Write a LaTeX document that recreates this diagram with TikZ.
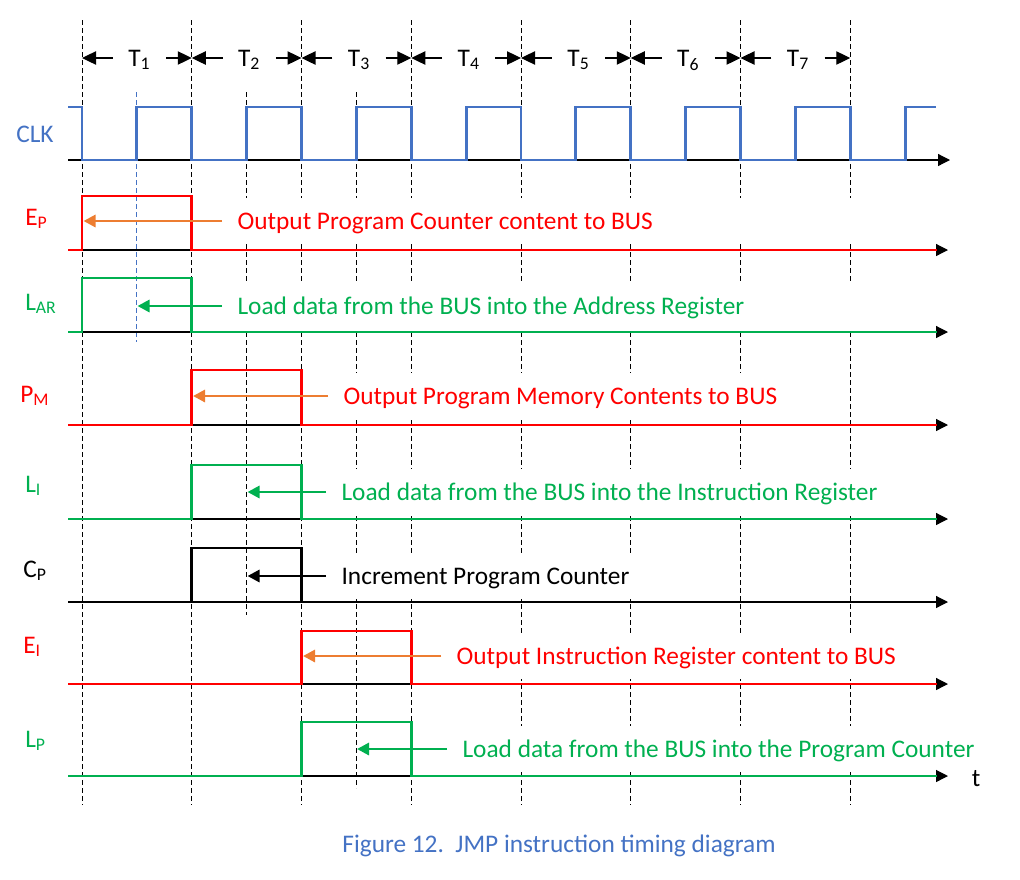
\documentclass[tikz,border=0pt]{standalone}
\usepackage{fontspec}
\setmainfont{Carlito}
\usetikzlibrary{arrows.meta}
\definecolor{cblue}{HTML}{4472C4}
\definecolor{cred}{HTML}{FF0000}
\definecolor{cgreen}{HTML}{00B050}
\definecolor{corange}{HTML}{ED7D31}
\begin{document}
\begin{tikzpicture}[x=0.75pt,y=-0.75pt,
  font=\fontsize{19pt}{22pt}\selectfont,
  vdash/.style={line width=0.75pt, dash pattern=on 3.75pt off 2.25pt},
  axisln/.style={line width=0.9pt, -{Triangle[length=9pt,width=9pt]}},
  sig/.style={line width=2.2pt},
  ptr/.style={line width=2.2pt, -{Triangle[length=9pt,width=9pt]}},
  tarr/.style={line width=0.9pt, -{Triangle[length=10.5pt,width=10pt]}},
  sigtext/.style={fill=white, anchor=west, inner xsep=11.5pt, inner ysep=0pt,
    text height=12.2pt, text depth=0pt, minimum height=34.5pt},
  lbl/.style={anchor=base west, inner sep=0pt},
  tlbl/.style={inner sep=0pt, minimum width=39.56pt, text height=12.2pt, text depth=0pt}
]
\useasboundingbox (0,0) rectangle (1020,879);

% dashed time grid
\foreach \k in {0,...,7} \draw[vdash] ({82+109.75*\k},20) -- ({82+109.75*\k},805);
\draw[vdash, cblue] (136.875,92) -- (136.875,342);
\draw[vdash] (246.625,92) -- (246.625,615);
\draw[vdash] (356.375,92) -- (356.375,788);

% T labels
\foreach \k [evaluate=\k as \xa using 82+109.75*(\k-1)] in {1,...,7} {
  \coordinate (bL\k) at (\xa,58);
  \coordinate (bR\k) at ({\xa+109.75},58);
  \node[tlbl] (T\k) at ({\xa+57.4},58) {T\textsubscript{\k}};
  \draw[tarr] (T\k.west) -- (bL\k);
  \draw[tarr] (T\k.east) -- (bR\k);
}

% text boxes (white, hide the grid)
\node[sigtext, text=cred] (tep) at (222,221) {\makebox[470pt][l]{Output Program Counter content to BUS}};
\node[sigtext, text=cgreen] (tlar) at (222,306) {\makebox[470pt][l]{Load data from the BUS into the Address Register}};
\node[sigtext, text=cred] (tpm) at (328,396) {Output Program Memory Contents to BUS};
\node[sigtext, text=cgreen] (tli) at (326,492) {Load data from the BUS into the Instruction Register};
\node[sigtext, text=black] (tcp) at (326,576) {Increment Program Counter};
\node[sigtext, text=cred] (tei) at (441,656) {Output Instruction Register content to BUS};
\node[sigtext, text=cgreen] (tlp) at (447,749) {Load data from the BUS into the Program Counter};

% CLK
\draw[axisln] (68,160) -- (950,160);
\draw[sig, cblue] (68,107)
  foreach \k in {0,...,6}{ -- ({82+109.75*\k},107) -- ({82+109.75*\k},160)
     -- ({136.875+109.75*\k},160) -- ({136.875+109.75*\k},107) }
  -- (850.25,107) -- (850.25,160) -- (905.125,160) -- (905.125,107) -- (936,107);

% control signals
\foreach \hi/\lo/\pa/\pb/\col in {196/250/82/191.75/cred, 278/332/82/191.75/cgreen,
   370/425/191.75/301.5/cred, 465/519/191.75/301.5/cgreen, 548/602/191.75/301.5/black,
   631/684/301.5/411.25/cred, 722/776/301.5/411.25/cgreen} {
  \draw[axisln] (68,\lo) -- (948,\lo);
  \draw[sig, draw=\col] (68,\lo) -- (\pa,\lo) -- (\pa,\hi) -- (\pb,\hi) -- (\pb,\lo) -- (937,\lo);
}

% pointer arrows
\coordinate (ep) at (83.5,221);
\coordinate (lar) at (137.5,306);
\coordinate (pm) at (193,396);
\coordinate (li) at (247.5,492);
\coordinate (cp) at (247.5,576);
\coordinate (ei) at (303,656);
\coordinate (lp) at (357,749);
\draw[ptr, corange] (tep.west) -- (ep);
\draw[ptr, cgreen] (tlar.west) -- (lar);
\draw[ptr, corange] (tpm.west) -- (pm);
\draw[ptr, cgreen] (tli.west) -- (li);
\draw[ptr, black] (tcp.west) -- (cp);
\draw[ptr, corange] (tei.west) -- (ei);
\draw[ptr, cgreen] (tlp.west) -- (lp);

% signal names
\node[lbl, text=cblue] (nclk) at (16,142.5) {CLK};
\node[lbl, text=cred] (nep) at (25,225) {E\textsubscript{P}};
\node[lbl, text=cgreen] (nlar) at (25,310) {L\textsubscript{AR}};
\node[lbl, text=cred] (npm) at (20,402) {P\textsubscript{M}};
\node[lbl, text=cgreen] (nli) at (25,492) {L\textsubscript{I}};
\node[lbl, text=black] (ncp) at (23,577) {C\textsubscript{P}};
\node[lbl, text=cred] (nei) at (23,653) {E\textsubscript{I}};
\node[lbl, text=cgreen] (nlp) at (25,747) {L\textsubscript{P}};

\node[anchor=base, inner sep=0pt] (tt) at (976,786) {t};
\node[anchor=base, inner sep=0pt, text=cblue] (cap) at (559,852) {Figure 12.\ \ JMP instruction timing diagram};
\end{tikzpicture}
\end{document}
